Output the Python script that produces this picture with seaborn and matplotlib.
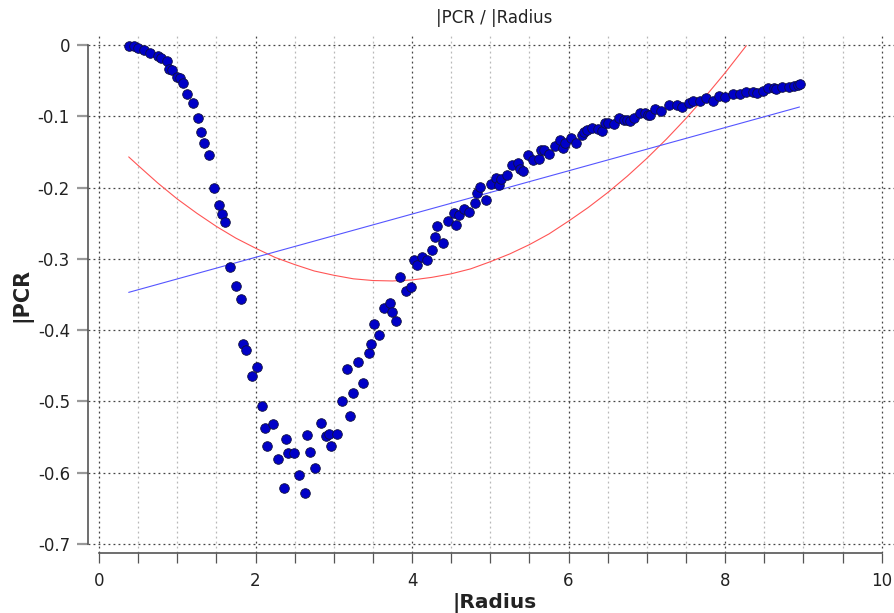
import matplotlib
matplotlib.use("Agg")
import matplotlib.pyplot as plt
from matplotlib.ticker import MultipleLocator, FixedLocator
import pandas as pd
import seaborn as sns

# scatter data
radius = [
    0.39, 0.45, 0.50, 0.58, 0.655, 0.75, 0.79, 0.865, 0.894, 0.93,
    1.0, 1.035, 1.07, 1.13, 1.20, 1.27, 1.31, 1.34, 1.405, 1.47,
    1.54, 1.575, 1.61, 1.68, 1.745, 1.81, 1.843, 1.88, 1.95, 2.02,
    2.08, 2.12, 2.15, 2.22, 2.287, 2.36, 2.39, 2.42, 2.49, 2.56,
    2.63, 2.66, 2.70, 2.76, 2.835, 2.90, 2.94, 2.97, 3.035, 3.10,
    3.17, 3.205, 3.24, 3.31, 3.375, 3.45, 3.48, 3.51, 3.58, 3.645,
    3.72, 3.75, 3.79, 3.85, 3.92, 3.985, 4.02, 4.06, 4.125, 4.19,
    4.26, 4.29, 4.325, 4.39, 4.46, 4.53, 4.56, 4.60, 4.665, 4.73,
    4.80, 4.835, 4.87, 4.94, 5.01, 5.07, 5.11, 5.14, 5.21, 5.28,
    5.35, 5.38, 5.415, 5.48, 5.55, 5.62, 5.65, 5.69, 5.755, 5.82,
    5.89, 5.93, 5.96, 6.03, 6.095, 6.165, 6.20, 6.23, 6.30, 6.37,
    6.43, 6.47, 6.505, 6.58, 6.64, 6.71, 6.75, 6.78, 6.84, 6.91,
    6.98, 7.015, 7.045, 7.11, 7.185, 7.28, 7.39, 7.455, 7.54, 7.59,
    7.68, 7.76, 7.84, 7.92, 8.0, 8.10, 8.19, 8.27, 8.36, 8.41,
    8.48, 8.55, 8.63, 8.655, 8.73, 8.82, 8.88, 8.93, 8.95,
]
pcr = [
    -0.001, -0.002, -0.004, -0.007, -0.011, -0.015, -0.018, -0.023, -0.033, -0.035,
    -0.045, -0.047, -0.054, -0.069, -0.081, -0.103, -0.122, -0.138, -0.154, -0.201,
    -0.225, -0.237, -0.248, -0.312, -0.338, -0.356, -0.419, -0.428, -0.465, -0.451,
    -0.506, -0.537, -0.562, -0.531, -0.581, -0.621, -0.553, -0.572, -0.573, -0.603,
    -0.629, -0.547, -0.571, -0.593, -0.530, -0.549, -0.545, -0.562, -0.546, -0.499,
    -0.455, -0.521, -0.488, -0.445, -0.474, -0.432, -0.419, -0.391, -0.407, -0.369,
    -0.362, -0.375, -0.387, -0.325, -0.345, -0.339, -0.301, -0.309, -0.297, -0.302,
    -0.287, -0.270, -0.254, -0.278, -0.247, -0.235, -0.252, -0.238, -0.230, -0.234,
    -0.222, -0.208, -0.199, -0.218, -0.195, -0.186, -0.196, -0.188, -0.183, -0.169,
    -0.166, -0.174, -0.177, -0.154, -0.161, -0.160, -0.147, -0.148, -0.153, -0.142,
    -0.133, -0.145, -0.138, -0.130, -0.137, -0.126, -0.122, -0.119, -0.117, -0.118,
    -0.121, -0.110, -0.110, -0.111, -0.103, -0.105, -0.105, -0.106, -0.103, -0.095,
    -0.096, -0.098, -0.098, -0.090, -0.092, -0.084, -0.084, -0.087, -0.081, -0.079,
    -0.078, -0.074, -0.078, -0.072, -0.073, -0.069, -0.069, -0.066, -0.066, -0.067,
    -0.065, -0.061, -0.061, -0.062, -0.059, -0.059, -0.058, -0.056, -0.055,
]

# linear fit (blue), end points
lin_x = [0.38, 8.95]
lin_y = [-0.347, -0.087]

# quadratic fit (red)
quad_x = [0.38, 0.5, 0.75, 1.0, 1.25, 1.5, 1.75, 2.0, 2.25, 2.5,
          2.75, 3.0, 3.25, 3.5, 3.75, 4.0, 4.25, 4.5, 4.75, 5.0,
          5.25, 5.5, 5.75, 6.0, 6.25, 6.5, 6.75, 7.0, 7.25, 7.5,
          7.75, 8.0, 8.27]
quad_y = [-0.157, -0.169, -0.1935, -0.216, -0.236, -0.2545, -0.271, -0.285, -0.298, -0.308,
          -0.317, -0.323, -0.328, -0.3304, -0.331, -0.3296, -0.326, -0.321, -0.314, -0.304,
          -0.293, -0.280, -0.265, -0.247, -0.228, -0.207, -0.184, -0.159, -0.132, -0.103,
          -0.072, -0.039, -0.001]

points = pd.DataFrame({"Radius": radius, "PCR": pcr})
lin_df = pd.DataFrame({"Radius": lin_x, "PCR": lin_y})
quad_df = pd.DataFrame({"Radius": quad_x, "PCR": quad_y})

sns.set_style("white")
plt.rcParams["font.family"] = ["DejaVu Sans"]

fig = plt.figure(figsize=(8.95, 6.13), dpi=100)
W, H = 895, 613
# axes box in pixels: left 88, right 895, top 35, bottom 553
ax = fig.add_axes([88 / W, (H - 553) / H, (895 - 88) / W, (553 - 35) / H])

sns.lineplot(data=quad_df, x="Radius", y="PCR", ax=ax, color="#ff5555",
             linewidth=0.8, sort=False, estimator=None, zorder=2)
sns.lineplot(data=lin_df, x="Radius", y="PCR", ax=ax, color="#5555ff",
             linewidth=0.8, sort=False, estimator=None, zorder=2)
sns.scatterplot(data=points, x="Radius", y="PCR", ax=ax, s=48,
                color="#0000c8", edgecolor="#101040", linewidth=0.6, zorder=3)

ax.set_xlim(-0.14, 10.17)
ax.set_ylim(-0.7126, 0.014)

# grid
ax.xaxis.set_major_locator(MultipleLocator(2))
ax.xaxis.set_minor_locator(MultipleLocator(0.5))
ax.yaxis.set_major_locator(FixedLocator([0, -0.1, -0.2, -0.3, -0.4, -0.5, -0.6, -0.7]))
ax.grid(which="major", axis="both", color="#444444", linestyle=(0, (1.5, 2.5)), linewidth=0.9)
ax.grid(which="minor", axis="x", color="#b8b8b8", linestyle=(0, (1.5, 2.5)), linewidth=0.9)
ax.set_axisbelow(True)

# spines
for side in ["top", "right"]:
    ax.spines[side].set_visible(False)
ax.spines["left"].set_bounds(-0.7, 0)
ax.spines["bottom"].set_bounds(0, 10)
for side in ["left", "bottom"]:
    ax.spines[side].set_color("#555555")
    ax.spines[side].set_linewidth(1.2)

ax.tick_params(axis="y", which="major", length=8, width=1.6, color="#999999",
               pad=5, labelsize=12, labelcolor="#222222", left=True)
ax.tick_params(axis="x", which="both", length=7, width=0.9, color="#555555",
               pad=7, labelsize=12, labelcolor="#222222", bottom=True)
ax.set_yticklabels(["0", "-0.1", "-0.2", "-0.3", "-0.4", "-0.5", "-0.6", "-0.7"])

ax.set_xlabel("|Radius", fontsize=14.5, fontweight="bold", color="#222222")
ax.set_ylabel("|PCR", fontsize=15, fontweight="bold", color="#222222")
ax.xaxis.label.set_va("center")
ax.xaxis.set_label_coords((494.5 - 88) / 807, (553 - 603) / 518)
ax.yaxis.label.set_va("center")
ax.yaxis.set_label_coords((22 - 88) / 807, (553 - 294.5) / 518)

fig.text(494.5 / W, 1 - 18 / H, "|PCR / |Radius", ha="center", va="center",
         fontsize=12, color="#222222")

fig.savefig("out.png", dpi=100)
